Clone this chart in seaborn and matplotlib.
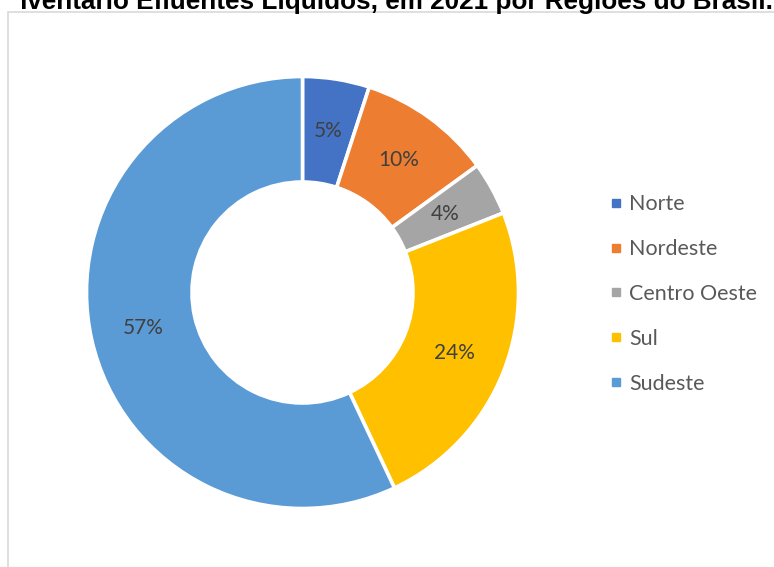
import matplotlib
matplotlib.use("Agg")
import matplotlib.pyplot as plt
from matplotlib.lines import Line2D
from matplotlib.patches import Rectangle
from matplotlib.transforms import Bbox
import seaborn as sns

# Regional shares of liquid effluents, 2021
regioes = ["Norte", "Nordeste", "Centro Oeste", "Sul", "Sudeste"]
percentuais = [5, 10, 4, 24, 57]
cores = ["#4472C4", "#ED7D31", "#A5A5A5", "#FFC000", "#5B9BD5"]
titulo = "Inventário Efluentes Líquidos, em 2021 por Regiões do Brasil."

sns.set_theme(style="white")
plt.rcParams["font.family"] = ["Lato", "DejaVu Sans"]

W, H, DPI = 774, 567, 100
fig = plt.figure(figsize=(W / DPI, H / DPI), dpi=DPI)
fig.patch.set_facecolor("white")

# light chart-area border
fig.patches.append(Rectangle((7.5 / W, -0.01), 1.0, 1 - 12.5 / H + 0.01,
                             transform=fig.transFigure, fill=False,
                             edgecolor="#D9D9D9", linewidth=1.2, zorder=0))

# donut axes: centre (302.5, 292.5) px, outer radius 216 px
cx, cy, R = 302.5, 292.5, 216.0
ax = fig.add_axes([(cx - R) / W, (H - cy - R) / H, 2 * R / W, 2 * R / H])

inner = 110.5 / R
wedges, _, autotexts = ax.pie(
    percentuais,
    colors=cores,
    startangle=90,
    counterclock=False,
    radius=1.0,
    autopct=lambda p: f"{p:.0f}%",
    pctdistance=(1 + inner) / 2,
    wedgeprops=dict(width=1 - inner, edgecolor="white", linewidth=2.6),
    textprops=dict(color="#404040", fontsize=15),
)
ax.set_xlim(-1, 1)
ax.set_ylim(-1, 1)
ax.set_aspect("equal", adjustable="box")
ax.axis("off")

# legend
handles = [Line2D([], [], marker="s", linestyle="", markersize=6,
                  markerfacecolor=c, markeredgecolor=c) for c in cores]
fig.legend(handles, regioes, loc="center left",
           bbox_to_anchor=(609.5 / W, 1 - 294 / H),
           frameon=False, fontsize=15.5, labelcolor="#595959",
           handlelength=0.6, handletextpad=0.3, labelspacing=1.15,
           borderaxespad=0, borderpad=0)

# title, running past the top edge and clipped on the left
t = fig.text(773 / W, 1 - 9 / H, titulo, ha="right", va="baseline",
             fontsize=18.8, fontweight="bold", color="black",
             family=["Liberation Sans", "DejaVu Sans"])
t.set_clip_box(Bbox.from_extents(19, 0, W, H))
t.set_clip_on(True)

fig.savefig("out.png", dpi=DPI, facecolor="white")
